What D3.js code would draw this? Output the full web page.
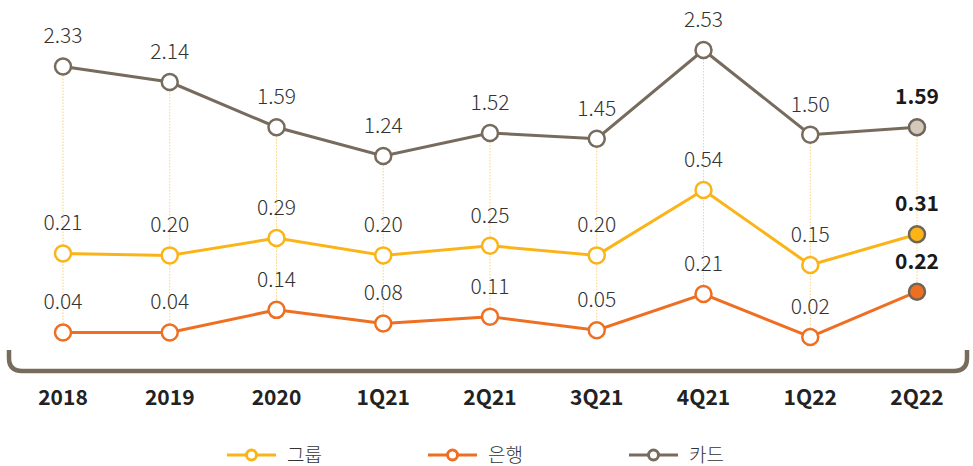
<!DOCTYPE html>
<html>
<head>
<meta charset="utf-8">
<script src="https://cdn.jsdelivr.net/npm/d3@7"></script>
<style>
  body { margin: 0; background: #fff; }
  text { font-family: "Noto Sans CJK KR", "Noto Sans", sans-serif; }
</style>
</head>
<body>
<div id="chart"></div>
<script>
var svgWidth = 973;
var svgHeight = 466;

// data
var periods = ["2018", "2019", "2020", "1Q21", "2Q21", "3Q21", "4Q21", "1Q22", "2Q22"];
var cardValues  = [2.33, 2.14, 1.59, 1.24, 1.52, 1.45, 2.53, 1.50, 1.59];
var groupValues = [0.21, 0.20, 0.29, 0.20, 0.25, 0.20, 0.54, 0.15, 0.31];
var bankValues  = [0.04, 0.04, 0.14, 0.08, 0.11, 0.05, 0.21, 0.02, 0.22];
var seriesNames = ["그룹", "은행", "카드"];

var colors = { group: "#fbb417", bank: "#ee6f22", card: "#776b5e" };
var lastFill = { group: "#fbb417", bank: "#ee6f22", card: "#d3c8ba" };

var svg = d3.select("#chart")
  .append("svg")
  .attr("width", svgWidth)
  .attr("height", svgHeight);

var x = d3.scalePoint()
  .domain(periods)
  .range([63, 917]);

// each series sits in its own band
var yCard = d3.scaleLinear().domain([1.24, 2.53]).range([156, 50]);
var yGroup = d3.scaleLinear().domain([0.15, 0.54]).range([265, 190]);
var yBank = d3.scaleLinear().domain([0.02, 0.21]).range([337, 294]);

var series = [
  { key: "card", values: cardValues, y: yCard },
  { key: "group", values: groupValues, y: yGroup },
  { key: "bank", values: bankValues, y: yBank }
];

// dotted guides from top to bottom point
svg.append("g").selectAll("line")
  .data(periods)
  .enter()
  .append("line")
  .attr("x1", d => x(d))
  .attr("x2", d => x(d))
  .attr("y1", (d, i) => yCard(cardValues[i]))
  .attr("y2", (d, i) => yBank(bankValues[i]))
  .attr("stroke", "#fcd27a")
  .attr("stroke-width", 1)
  .attr("stroke-dasharray", "1.5,1.5");

// bracket under the plot
svg.append("path")
  .attr("d", "M9,350 L9,358 Q9,371 22,371 L954,371 Q967,371 967,358 L967,350")
  .attr("fill", "none")
  .attr("stroke", colors.card)
  .attr("stroke-width", 4.5);

series.forEach(function(s) {
  var line = d3.line()
    .x((d, i) => x(periods[i]))
    .y(d => s.y(d));

  svg.append("path")
    .datum(s.values)
    .attr("d", line)
    .attr("fill", "none")
    .attr("stroke", colors[s.key])
    .attr("stroke-width", 3);

  var last = s.values.length - 1;

  svg.append("g").selectAll("circle")
    .data(s.values)
    .enter()
    .append("circle")
    .attr("cx", (d, i) => x(periods[i]))
    .attr("cy", d => s.y(d))
    .attr("r", 8)
    .attr("fill", (d, i) => i == last ? lastFill[s.key] : "#fff")
    .attr("stroke", (d, i) => i == last ? "#6e6558" : colors[s.key])
    .attr("stroke-width", 2.5);

  svg.append("g").selectAll("text")
    .data(s.values)
    .enter()
    .append("text")
    .attr("x", (d, i) => x(periods[i]))
    .attr("y", d => s.y(d) - 23)
    .attr("text-anchor", "middle")
    .attr("font-size", "21px")
    .attr("font-weight", (d, i) => i == last ? 700 : 300)
    .attr("fill", (d, i) => i == last ? "#1a1a1a" : "#333")
    .text(d => d.toFixed(2));
});

// x labels
svg.append("g").selectAll("text")
  .data(periods)
  .enter()
  .append("text")
  .attr("x", d => x(d))
  .attr("y", 405)
  .attr("text-anchor", "middle")
  .attr("font-size", "21px")
  .attr("font-weight", 700)
  .attr("fill", "#222")
  .text(d => d);

// legend
var legendX = [227, 428, 629];
var legendColors = [colors.group, colors.bank, colors.card];
var legend = svg.append("g").selectAll("g")
  .data(seriesNames)
  .enter()
  .append("g")
  .attr("transform", (d, i) => `translate(${legendX[i]}, 455)`);

legend.append("line")
  .attr("x1", 0).attr("x2", 49)
  .attr("stroke", (d, i) => legendColors[i])
  .attr("stroke-width", 3);

legend.append("circle")
  .attr("cx", 24.5)
  .attr("r", 5)
  .attr("fill", "#fff")
  .attr("stroke", (d, i) => legendColors[i])
  .attr("stroke-width", 3);

legend.append("text")
  .attr("x", 60)
  .attr("y", 7)
  .attr("font-size", "19px")
  .attr("font-weight", 300)
  .attr("fill", "#333")
  .text(d => d);
</script>
</body>
</html>
